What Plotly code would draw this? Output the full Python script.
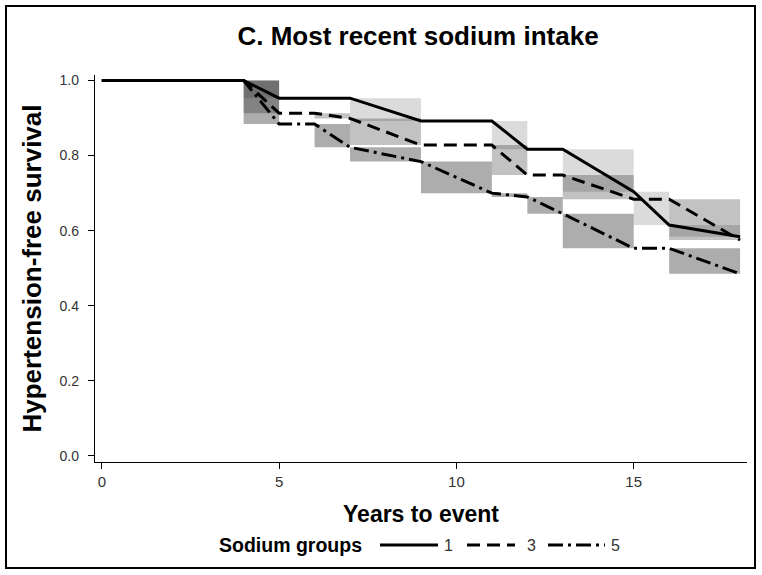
import plotly.graph_objects as go

# ---- data ----
group_names = ["1", "3", "5"]
years_g1 = [0, 4, 5, 7, 9, 11, 12, 13, 15, 16, 18]
surv_g1 = [1.0, 1.0, 0.953, 0.953, 0.892, 0.892, 0.817, 0.817, 0.704, 0.615, 0.584]
years_g3 = [0, 4, 5, 6, 7, 9, 11, 12, 13, 15, 16, 18]
surv_g3 = [1.0, 1.0, 0.913, 0.913, 0.899, 0.828, 0.828, 0.748, 0.748, 0.684, 0.684, 0.575]
years_g5 = [0, 4, 5, 6, 7, 9, 11, 12, 13, 15, 16, 18]
surv_g5 = [1.0, 1.0, 0.884, 0.884, 0.822, 0.784, 0.700, 0.690, 0.645, 0.553, 0.553, 0.485]
x_ticks = [0, 5, 10, 15]
y_ticks = [0.0, 0.2, 0.4, 0.6, 0.8, 1.0]
y_tick_labels = ["0.0", "0.2", "0.4", "0.6", "0.8", "1.0"]

FONT = "Arial, Liberation Sans, Helvetica, sans-serif"
dashes = ["solid", "13px,7px", "15px,5px,3px,5px"]
box_fill = ["rgba(0,0,0,0.14)", "rgba(0,0,0,0.24)", "rgba(0,0,0,0.32)"]

series = [(years_g1, surv_g1), (years_g3, surv_g3), (years_g5, surv_g5)]

fig = go.Figure()

# shaded boxes spanning each declining segment
for (xs, ys), fc, name in zip(series, box_fill, group_names):
    bx, by = [], []
    for i in range(len(xs) - 1):
        if ys[i + 1] < ys[i]:
            x0, x1, lo, hi = xs[i], xs[i + 1], ys[i + 1], ys[i]
            bx += [x0, x1, x1, x0, x0, None]
            by += [lo, lo, hi, hi, lo, None]
    fig.add_trace(go.Scatter(x=bx, y=by, mode="lines", fill="toself",
                             fillcolor=fc, line=dict(width=0),
                             hoverinfo="skip", showlegend=False,
                             name="band " + name))

# survival lines
for (xs, ys), d, name in zip(series, dashes, group_names):
    fig.add_trace(go.Scatter(x=xs, y=ys, mode="lines", name=name,
                             line=dict(color="black", width=3, dash=d),
                             showlegend=False))

# ---- manual legend ----
L = 95.0
W = 652.0
B = 462.0
H = 387.0


def px(x):
    return (x - L) / W


def py(y):
    return (B - y) / H


legend_y = py(545)
shapes = []
annotations = []
samples = [(380, 438, 448), (467, 515, 531), (548, 605, 615)]
for (a, b, lab_x), d, name in zip(samples, dashes, group_names):
    shapes.append(dict(type="line", xref="paper", yref="paper",
                       x0=px(a), x1=px(b), y0=legend_y, y1=legend_y,
                       line=dict(color="black", width=3, dash=d)))
    annotations.append(dict(text=name, xref="paper", yref="paper",
                            x=px(lab_x), y=legend_y, showarrow=False,
                            xanchor="center", yanchor="middle",
                            font=dict(family=FONT, size=16, color="#333333")))
annotations.append(dict(text="<b>Sodium groups</b>", xref="paper", yref="paper",
                        x=px(217), y=legend_y, showarrow=False,
                        xanchor="left", yanchor="middle",
                        font=dict(family=FONT, size=19.5, color="black")))

# outer frame
shapes.append(dict(type="rect", xref="paper", yref="paper",
                   x0=px(6), x1=px(755), y0=py(568), y1=py(6),
                   line=dict(color="black", width=2), layer="below"))

fig.update_layout(
    width=762, height=575,
    margin=dict(l=95, r=15, t=75, b=113, autoexpand=False),
    paper_bgcolor="white", plot_bgcolor="white",
    font=dict(family=FONT, color="#333333"),
    title=dict(text="<b>C. Most recent sodium intake</b>",
               x=418 / 762, xref="container", xanchor="center",
               y=1 - 36 / 575, yref="container", yanchor="middle",
               font=dict(family=FONT, size=26, color="black")),
    xaxis=dict(range=[-0.192, 18.195], tickvals=x_ticks,
               showline=True, linecolor="black", linewidth=1.3,
               ticks="outside", ticklen=6, tickcolor="black",
               tickfont=dict(family=FONT, size=15, color="#333333"),
               showgrid=False, zeroline=False,
               title=dict(text="<b>Years to event</b>", standoff=16,
                          font=dict(family=FONT, size=23, color="black"))),
    yaxis=dict(range=[-0.016, 1.0146], tickvals=y_ticks, ticktext=y_tick_labels,
               showline=True, linecolor="black", linewidth=1.3,
               ticks="outside", ticklen=6, tickcolor="black",
               ticklabelstandoff=6,
               tickfont=dict(family=FONT, size=14, color="#333333"),
               showgrid=False, zeroline=False,
               title=dict(text="<b>Hypertension-free survival</b>", standoff=10,
                          font=dict(family=FONT, size=26, color="black"))),
    shapes=shapes,
    annotations=annotations,
)

fig.write_html("out.html", config={"displayModeBar": False},
               post_script="document.body.style.margin='0';document.body.style.overflow='hidden';")
